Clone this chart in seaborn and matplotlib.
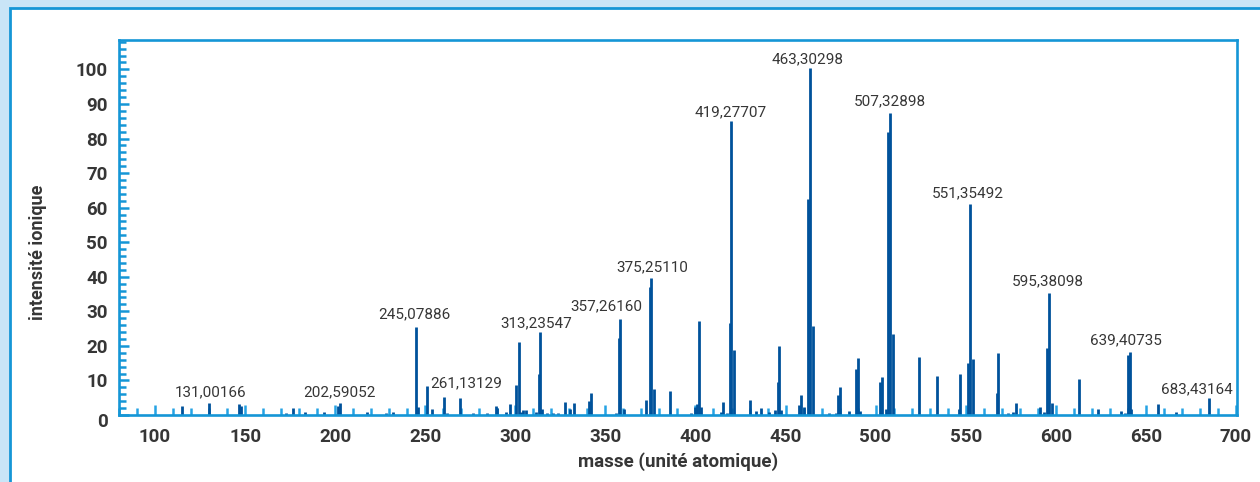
import pandas as pd
import matplotlib
matplotlib.use('Agg')
import matplotlib.pyplot as plt
import seaborn as sns
from matplotlib import font_manager
from matplotlib.patches import Rectangle
from matplotlib.ticker import MultipleLocator
from matplotlib.transforms import ScaledTranslation

# peaks: mass and relative intensity
masses = [115.0, 130.0, 146.6, 147.6, 172.5, 176.5, 183.2, 193.7, 201.6, 202.6,
          217.4, 228.1, 232.3, 244.7, 246.2, 250.7, 254.0, 260.6, 262.3, 269.1,
          276.5, 284.3, 289.1, 289.8, 295.0, 297.2, 300.6, 301.9, 303.4, 304.3,
          306.1, 311.7, 312.9, 313.9, 315.0, 317.6, 320.9, 323.7, 327.6, 330.2,
          332.4, 340.9, 342.0, 355.7, 357.3, 358.2, 360.1, 372.3, 374.7, 375.3,
          376.9, 386.0, 397.6, 399.8, 400.6, 401.8, 403.2, 414.3, 415.5, 417.4,
          418.9, 419.6, 421.3, 430.0, 433.7, 436.1, 440.7, 444.4, 445.7, 446.6,
          447.7, 457.7, 458.8, 460.5, 462.6, 463.4, 465.1, 474.3, 478.0, 479.3,
          480.2, 485.0, 489.1, 490.0, 491.5, 502.4, 503.4, 505.8, 507.0, 507.8,
          509.4, 523.9, 533.9, 546.1, 547.0, 551.4, 552.3, 553.8, 567.1, 568.2,
          573.6, 576.4, 577.9, 591.2, 593.6, 595.4, 596.3, 597.7, 613.0, 623.2,
          636.2, 638.5, 640.2, 641.0, 642.0, 656.7, 666.6, 685.1]
intensities = [2.7, 3.6, 3.2, 2.6, 0.6, 2.0, 0.8, 1.0, 2.5, 3.6,
               0.9, 0.6, 1.0, 25.4, 2.2, 8.4, 1.7, 5.1, 0.6, 4.9,
               0.6, 0.6, 2.5, 2.0, 0.9, 3.1, 8.7, 21.2, 1.0, 1.4,
               1.4, 0.9, 11.9, 24.1, 1.7, 0.6, 0.6, 0.6, 3.8, 1.7,
               3.4, 4.0, 6.3, 0.6, 22.2, 27.7, 1.7, 4.3, 37.0, 39.6,
               7.4, 6.8, 0.6, 2.4, 3.2, 27.3, 2.4, 0.9, 3.9, 0.6,
               26.5, 85.0, 18.8, 4.3, 1.2, 2.1, 0.9, 1.4, 9.6, 20.0,
               1.4, 2.9, 5.8, 2.4, 62.4, 100.5, 25.7, 0.6, 0.6, 5.8,
               8.2, 1.2, 13.2, 16.4, 1.2, 9.6, 10.9, 1.7, 81.9, 87.3,
               23.4, 16.7, 11.4, 1.7, 11.9, 15.1, 61.0, 16.1, 6.3, 17.8,
               0.6, 0.9, 3.4, 2.2, 0.8, 19.3, 35.4, 3.4, 10.3, 1.6,
               1.2, 0.6, 17.5, 18.3, 1.7, 3.2, 1.0, 4.8]

# peak annotations: text, centre mass, baseline intensity
label_texts = ['131,00166', '202,59052', '245,07886', '261,13129', '313,23547',
               '357,26160', '375,25110', '419,27707', '463,30298', '507,32898',
               '551,35492', '595,38098', '639,40735', '683,43164']
label_x = [130.6, 202.6, 244.2, 272.5, 311.7, 350.5, 375.8, 419.3, 462.1, 508.0,
           551.2, 595.6, 638.9, 678.1]
label_y = [5.3, 5.5, 28.0, 8.0, 25.5, 30.4, 41.5, 86.5, 101.8, 89.7,
           63.1, 37.6, 20.5, 6.3]

df = pd.DataFrame({'masse': masses, 'intensite': intensities})

sns.set_theme(style='white')
available = {f.name for f in font_manager.fontManager.ttflist}
if 'Liberation Sans Narrow' in available:
    peak_font, peak_size = 'Liberation Sans Narrow', 12.5
else:
    peak_font, peak_size = 'Roboto', 11
plt.rcParams['font.family'] = ['Roboto', 'DejaVu Sans']

spine_blue = '#1596d6'
tick_blue = '#25a3e4'
dark_blue = '#00529b'
text_grey = '#363636'

fig = plt.figure(figsize=(12.6, 4.82), dpi=100, facecolor='#c9e5f7')
fig.patches.append(Rectangle((10 / 1260, -0.1), 1.2, 1 - 8 / 482 + 0.1,
                             transform=fig.transFigure, facecolor='white',
                             edgecolor=spine_blue, linewidth=2.0, zorder=-5))
ax = fig.add_axes([119 / 1260, 1 - 415 / 482, (1237 - 119) / 1260, 375 / 482])
ax.set_facecolor('white')

ax.vlines(df['masse'], 0, df['intensite'], color=dark_blue, linewidth=2.0, zorder=3)

for t, x, y in zip(label_texts, label_x, label_y):
    ax.text(x, y, t, ha='center', va='baseline', color=text_grey,
            family=[peak_font, 'DejaVu Sans'], fontsize=peak_size, zorder=4)

ax.set_xlim(80, 700.6)
ax.set_ylim(0, 108.5)

ax.xaxis.set_major_locator(MultipleLocator(50))
ax.xaxis.set_minor_locator(MultipleLocator(10))
ax.yaxis.set_major_locator(MultipleLocator(10))
ax.yaxis.set_minor_locator(MultipleLocator(2))

for s in ax.spines.values():
    s.set_color(spine_blue)
    s.set_linewidth(1.9)
    s.set_zorder(5)

ax.tick_params(axis='x', which='major', direction='in', length=7.2, width=1.8,
               color=tick_blue, pad=9, labelsize=13.5, labelcolor=text_grey)
ax.tick_params(axis='x', which='minor', direction='in', length=5.0, width=1.8,
               color=tick_blue)
ax.tick_params(axis='y', which='major', direction='in', length=7.2, width=1.8,
               color=spine_blue, pad=8, labelsize=13.5, labelcolor=text_grey)
ax.tick_params(axis='y', which='minor', direction='in', length=4.8, width=1.8,
               color=spine_blue)
ax.tick_params(bottom=True, left=True, which='both')
ax.set_xticks(range(100, 701, 50))
ax.set_yticks(range(0, 101, 10))
for lab in ax.get_xticklabels() + ax.get_yticklabels():
    lab.set_fontweight('bold')

# the zero label sits a little lower in the original
zero = ax.yaxis.get_major_ticks()[0].label1
zero.set_transform(zero.get_transform() + ScaledTranslation(0, -5 / 100, fig.dpi_scale_trans))

ax.set_xlabel('masse (unité atomique)', fontsize=13.5, fontweight='bold', color=text_grey)
ax.set_ylabel('intensité ionique', fontsize=13, fontweight='bold', color=text_grey)
ax.xaxis.set_label_coords(0.5, -0.10)
ax.yaxis.set_label_coords(-0.064, 0.435)

fig.savefig('out.png', dpi=100, facecolor=fig.get_facecolor())
